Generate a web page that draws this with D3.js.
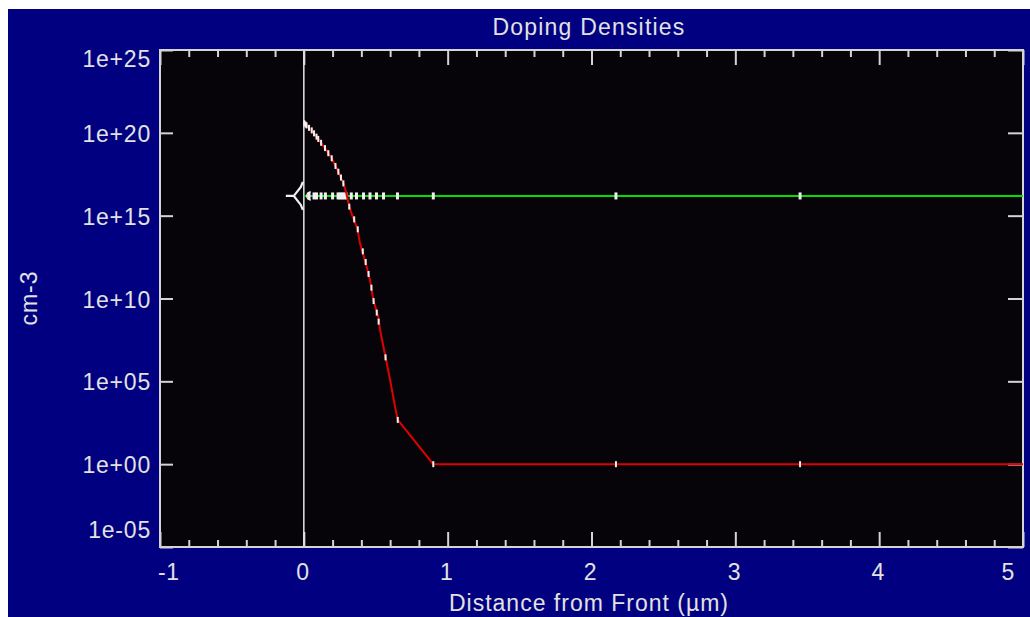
<!DOCTYPE html>
<html><head><meta charset="utf-8">
<script src="https://cdn.jsdelivr.net/npm/d3@7"></script>
<style>
body{margin:0;background:#fff;}
svg{display:block;}
text{font-family:"Liberation Sans",Arial,sans-serif;fill:#e2e2e2;}
</style>
</head><body>
<svg id="c" width="1030" height="617"></svg>
<script>
// ---- data ----
const title = "Doping Densities";
const xLabel = "Distance from Front (µm)";
const yLabel = "cm-3";
const xMajorTicks = [-1, 0, 1, 2, 3, 4, 5];
const xMinorTicks = [-0.8,-0.6,-0.4,-0.2,0.2,0.4,0.6,0.8,1.2,1.4,1.6,1.8,2.2,2.4,2.6,2.8,3.2,3.4,3.6,3.8,4.2,4.4,4.6,4.8];
const yTicks = [1e-5, 1e0, 1e5, 1e10, 1e15, 1e20, 1e25];
const yTickLabels = ["1e-05", "1e+00", "1e+05", "1e+10", "1e+15", "1e+20", "1e+25"];

// red series (donor profile)
const redX = [0.003, 0.055, 0.10, 0.147, 0.194, 0.24, 0.275, 0.293, 0.316, 0.344, 0.372, 0.39, 0.414, 0.437, 0.46, 0.483, 0.518, 0.53, 0.565, 0.60, 0.634, 0.653, 0.90, 2.17, 3.45, 5.0];
const redY = [3.8e20, 1.4e20, 4.3e19, 1.2e19, 2.9e18, 4.5e17, 8.9e16, 2.8e16, 3.5e15, 6.9e14, 1.7e14, 2.2e13, 4.3e12, 8.3e11, 1.3e11, 8.1e9, 7.9e8, 1.3e8, 3.9e6, 1.2e5, 3.0e3, 4.7e2, 1, 1, 1, 1];
// red mesh markers
const redMarkX = [0.003, 0.012, 0.019, 0.036, 0.055, 0.071, 0.088, 0.10, 0.12, 0.147, 0.17, 0.194, 0.22, 0.24, 0.258, 0.275, 0.316, 0.35, 0.375, 0.41, 0.43, 0.45, 0.47, 0.485, 0.507, 0.52, 0.568, 0.653, 0.90, 2.17, 3.45];
const redMarkY = [3.8e20, 3.2e20, 2.8e20, 2.0e20, 1.4e20, 9.3e19, 5.9e19, 4.3e19, 2.5e19, 1.2e19, 5.9e18, 2.9e18, 1.0e18, 4.5e17, 2.0e17, 8.9e16, 3.5e15, 6.0e14, 1.5e14, 7.0e12, 1.6e12, 3.0e11, 4.5e10, 7.0e9, 1.4e9, 4.0e8, 2.8e6, 4.7e2, 1, 1, 1];

// green series (acceptor background)
const greenX = [0.0, 0.019, 0.036, 0.054, 0.071, 0.088, 0.12, 0.15, 0.20, 0.238, 0.252, 0.266, 0.28, 0.294, 0.33, 0.366, 0.415, 0.46, 0.505, 0.554, 0.651, 0.90, 2.17, 3.45, 5.0];
const greenY = [1.55e16, 1.55e16, 1.55e16, 1.55e16, 1.55e16, 1.55e16, 1.55e16, 1.55e16, 1.55e16, 1.55e16, 1.55e16, 1.55e16, 1.55e16, 1.55e16, 1.55e16, 1.55e16, 1.55e16, 1.55e16, 1.55e16, 1.55e16, 1.55e16, 1.55e16, 1.55e16, 1.55e16, 1.55e16];
const greenMarkX = [0.036, 0.071, 0.088, 0.12, 0.15, 0.20, 0.238, 0.252, 0.266, 0.28, 0.294, 0.33, 0.366, 0.415, 0.46, 0.505, 0.554, 0.651, 0.90, 2.17, 3.45];

// magenta short series near the front
const magentaX = [0.02, 0.065];
const magentaY = [1.55e16, 1.55e16];

// ---- layout ----
const W = 1030, H = 617;
const svg = d3.select("#c");
const plot = {left: 160, top: 50, right: 1023, bottom: 547};

const x = d3.scaleLinear().domain([-1, 5]).range([plot.left, plot.right]);
const y = d3.scaleLog().domain([1e-5, 1e25]).range([plot.bottom, plot.top]);

// backgrounds
svg.append("rect").attr("x", 0).attr("y", 0).attr("width", W).attr("height", H).attr("fill", "#ffffff");
svg.append("rect").attr("x", 8).attr("y", 9).attr("width", W - 8).attr("height", H - 9).attr("fill", "#000080");
svg.append("rect").attr("x", plot.left).attr("y", plot.top)
  .attr("width", plot.right - plot.left).attr("height", plot.bottom - plot.top).attr("fill", "#060408");

const tickColor = "#d4d4d4";

// x ticks (bottom, top) pointing inward
function styleAxis(g) {
  g.select(".domain").remove();
  g.selectAll(".tick line").attr("stroke", tickColor).attr("stroke-width", 2);
}
svg.append("g").attr("transform", `translate(0,${plot.bottom})`)
  .call(d3.axisBottom(x).tickValues(xMinorTicks).tickSizeInner(-7).tickSizeOuter(0).tickFormat(""))
  .call(styleAxis);
svg.append("g").attr("transform", `translate(0,${plot.bottom})`)
  .call(d3.axisBottom(x).tickValues(xMajorTicks).tickSizeInner(-15).tickSizeOuter(0).tickFormat(""))
  .call(styleAxis);
svg.append("g").attr("transform", `translate(0,${plot.top})`)
  .call(d3.axisTop(x).tickValues(xMinorTicks).tickSizeInner(-7).tickSizeOuter(0).tickFormat(""))
  .call(styleAxis);
svg.append("g").attr("transform", `translate(0,${plot.top})`)
  .call(d3.axisTop(x).tickValues(xMajorTicks).tickSizeInner(-15).tickSizeOuter(0).tickFormat(""))
  .call(styleAxis);
// y ticks left/right
svg.append("g").attr("transform", `translate(${plot.left},0)`)
  .call(d3.axisLeft(y).tickValues(yTicks).tickSizeInner(-13).tickSizeOuter(0).tickFormat(""))
  .call(styleAxis);
svg.append("g").attr("transform", `translate(${plot.right},0)`)
  .call(d3.axisRight(y).tickValues(yTicks).tickSizeInner(-15).tickSizeOuter(0).tickFormat(""))
  .call(styleAxis);

// zero line
svg.append("line").attr("x1", x(0)).attr("x2", x(0)).attr("y1", plot.top).attr("y2", plot.bottom)
  .attr("stroke", "#e6e6e6").attr("stroke-width", 1.5);

// frame
svg.append("rect").attr("x", plot.left).attr("y", plot.top)
  .attr("width", plot.right - plot.left).attr("height", plot.bottom - plot.top)
  .attr("fill", "none").attr("stroke", tickColor).attr("stroke-width", 2);

// x tick labels
const fs = 23;
svg.append("g").selectAll("text").data(xMajorTicks).join("text")
  .attr("x", (d, i) => i === 0 ? x(d) - 2 : (i === xMajorTicks.length - 1 ? x(d) - 8 : x(d) - 1))
  .attr("y", 580)
  .attr("text-anchor", (d, i) => i === 0 ? "start" : (i === xMajorTicks.length - 1 ? "end" : "middle"))
  .attr("font-size", fs).attr("letter-spacing", 0.6)
  .text(d => d);

// y tick labels
svg.append("g").selectAll("text").data(yTicks).join("text")
  .attr("x", 151)
  .attr("y", (d, i) => i === yTicks.length - 1 ? y(d) + 17 : (i === 0 ? y(d) - 9 : y(d) + 9))
  .attr("text-anchor", "end")
  .attr("font-size", fs).attr("letter-spacing", 0.8)
  .text((d, i) => yTickLabels[i]);

// titles
svg.append("text").attr("x", 589).attr("y", 35).attr("text-anchor", "middle")
  .attr("font-size", fs).attr("letter-spacing", 1.2).text(title);
svg.append("text").attr("x", 589).attr("y", 611).attr("text-anchor", "middle")
  .attr("font-size", fs).attr("letter-spacing", 1.0).text(xLabel);
svg.append("text").attr("transform", `translate(37,298) rotate(-90)`).attr("text-anchor", "middle")
  .attr("font-size", fs).attr("letter-spacing", 1.0).text(yLabel);

// series
const line = d3.line().x(d => x(d[0])).y(d => y(d[1]));
svg.append("clipPath").attr("id", "pc").append("rect")
  .attr("x", plot.left).attr("y", plot.top).attr("width", plot.right - plot.left).attr("height", plot.bottom - plot.top);
const g = svg.append("g").attr("clip-path", "url(#pc)");

g.append("path").datum(d3.zip(greenX, greenY)).attr("d", line)
  .attr("fill", "none").attr("stroke", "#00e000").attr("stroke-width", 2);
g.append("path").datum(d3.zip(magentaX, magentaY)).attr("d", line)
  .attr("fill", "none").attr("stroke", "#ff00ff").attr("stroke-width", 2).attr("stroke-dasharray", "3,2");
g.selectAll("rect.gm").data(greenMarkX).join("rect").attr("class", "gm")
  .attr("x", d => x(d) - 1.5).attr("y", y(greenY[0]) - 3.5).attr("width", 3).attr("height", 7).attr("fill", "#f0f0f0");

g.append("path").datum(d3.zip(redX, redY)).attr("d", line)
  .attr("fill", "none").attr("stroke", "#e00000").attr("stroke-width", 2);
g.selectAll("rect.rm").data(d3.zip(redMarkX, redMarkY)).join("rect").attr("class", "rm")
  .attr("x", d => x(d[0]) - 1).attr("y", d => y(d[1]) - 3).attr("width", 2).attr("height", 6).attr("fill", "#f0f0f0");

// marker glyph at the front surface
const cx = x(0), cy = y(greenY[0]);
g.append("path")
  .attr("d", `M${cx - 18},${cy} L${cx - 10},${cy} M${cx - 1},${cy - 14} L${cx - 3},${cy - 9} L${cx - 10},${cy} L${cx - 3},${cy + 9} L${cx - 1},${cy + 14}`)
  .attr("fill", "none").attr("stroke", "#f0f0f0").attr("stroke-width", 2.2);
g.append("path")
  .attr("d", `M${cx + 7},${cy - 4} A4,4 0 1,0 ${cx + 7},${cy + 4}`)
  .attr("fill", "none").attr("stroke", "#f0f0f0").attr("stroke-width", 1.5);
</script>
</body></html>
